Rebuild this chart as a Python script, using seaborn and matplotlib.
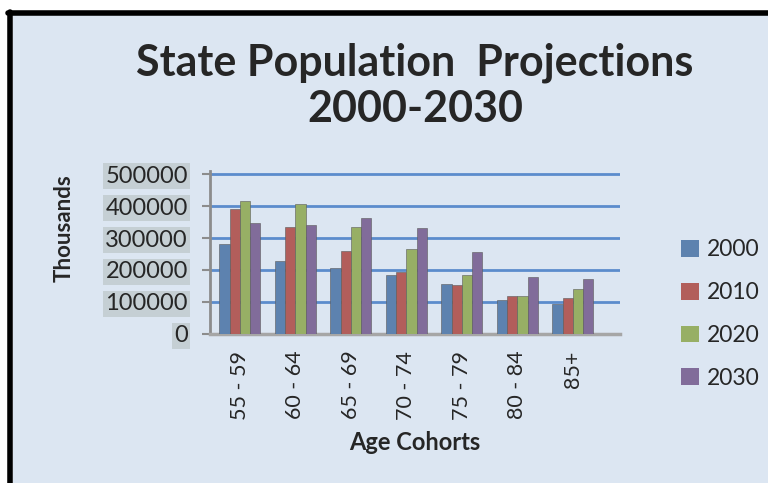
import matplotlib
matplotlib.use("Agg")
import matplotlib.pyplot as plt
import matplotlib.lines as mlines
import matplotlib.patches as mpatches
import pandas as pd
import seaborn as sns

# values (thousands)
cohorts = ["55 - 59", "60 - 64", "65 - 69", "70 - 74", "75 - 79", "80 - 84", "85+"]
years = ["2000", "2010", "2020", "2030"]
pop_2000 = [280000, 229000, 206000, 185000, 156000, 105000, 95000]
pop_2010 = [390000, 334000, 258000, 193000, 154000, 118000, 113000]
pop_2020 = [417000, 405000, 335000, 266000, 183000, 120000, 141000]
pop_2030 = [348000, 340000, 364000, 331000, 256000, 177000, 173000]
y_ticks = [0, 100000, 200000, 300000, 400000, 500000]

colors = ["#4f81bd", "#c0504d", "#9bbb59", "#8064a2"]
bg = "#dce6f2"

rows = []
for year, vals in zip(years, [pop_2000, pop_2010, pop_2020, pop_2030]):
    for c, v in zip(cohorts, vals):
        rows.append({"cohort": c, "year": year, "value": v})
df = pd.DataFrame(rows)

sns.set_style("white")
plt.rcParams["font.family"] = ["Lato", "DejaVu Sans"]

fig = plt.figure(figsize=(7.68, 4.83), dpi=100)
fig.patch.set_facecolor("white")

# chart area background + black frame (left and top)
fig.patches.append(mpatches.Rectangle((13 / 768, 0), 1, 1 - 15 / 483,
                                      transform=fig.transFigure,
                                      facecolor=bg, edgecolor="none", zorder=-2))
fig.lines.append(mlines.Line2D([10 / 768, 10 / 768], [0, 1 - 12 / 483],
                               transform=fig.transFigure, color="black", lw=4))
fig.lines.append(mlines.Line2D([8 / 768, 1], [1 - 12.5 / 483, 1 - 12.5 / 483],
                               transform=fig.transFigure, color="black", lw=4))

ax = fig.add_axes([210 / 768, 1 - 334 / 483, 410 / 768, (334 - 170.8) / 483])
ax.set_facecolor(bg)

sns.barplot(data=df, x="cohort", y="value", hue="year", palette=colors,
            width=0.74, gap=0, edgecolor="#5a5a5a", linewidth=0.4,
            ax=ax, zorder=3)

ax.set_ylim(0, 510000)
ax.set_xlim(-0.54, 6.85)
ax.set_yticks(y_ticks)
ax.set_yticklabels([str(v) for v in y_ticks])
for v in y_ticks[1:]:
    ax.axhline(v, color="#5b8ccc", lw=2, zorder=1)

for s in ["top", "right"]:
    ax.spines[s].set_visible(False)
ax.spines["left"].set_color("#8c8c8c")
ax.spines["left"].set_linewidth(2)
ax.spines["bottom"].set_color("#a6a6a6")
ax.spines["bottom"].set_linewidth(2.5)

ax.tick_params(axis="y", length=6, width=1.5, color="#8c8c8c",
               labelsize=17, pad=10, direction="out", left=True)
ax.tick_params(axis="x", length=0, labelsize=15.5, pad=12)
for lab in ax.get_yticklabels():
    lab.set_bbox(dict(facecolor="#c5cfd4", edgecolor="none", pad=1.5))
for lab in ax.get_xticklabels():
    lab.set_rotation(90)

ax.set_xlabel("Age Cohorts", fontsize=17, fontweight="bold", labelpad=8)
ax.set_ylabel("Thousands", fontsize=16, fontweight="bold")
ax.yaxis.set_label_coords(-0.329, 0.65)

fig.text(415 / 768, 1 - 63 / 483, "State Population  Projections",
         ha="center", va="center", fontsize=31, fontweight="bold")
fig.text(415 / 768, 1 - 109 / 483, "2000-2030",
         ha="center", va="center", fontsize=31, fontweight="bold")

ax.legend(loc="upper left", bbox_to_anchor=(670 / 768, 1 - 228 / 483),
          bbox_transform=fig.transFigure, frameon=False, fontsize=16.5,
          handlelength=0.75, handleheight=0.75, handletextpad=0.35,
          labelspacing=0.95, borderpad=0)
for h in ax.get_legend().legend_handles:
    h.set_edgecolor("none")

fig.savefig("out.png", dpi=100, facecolor="white")
